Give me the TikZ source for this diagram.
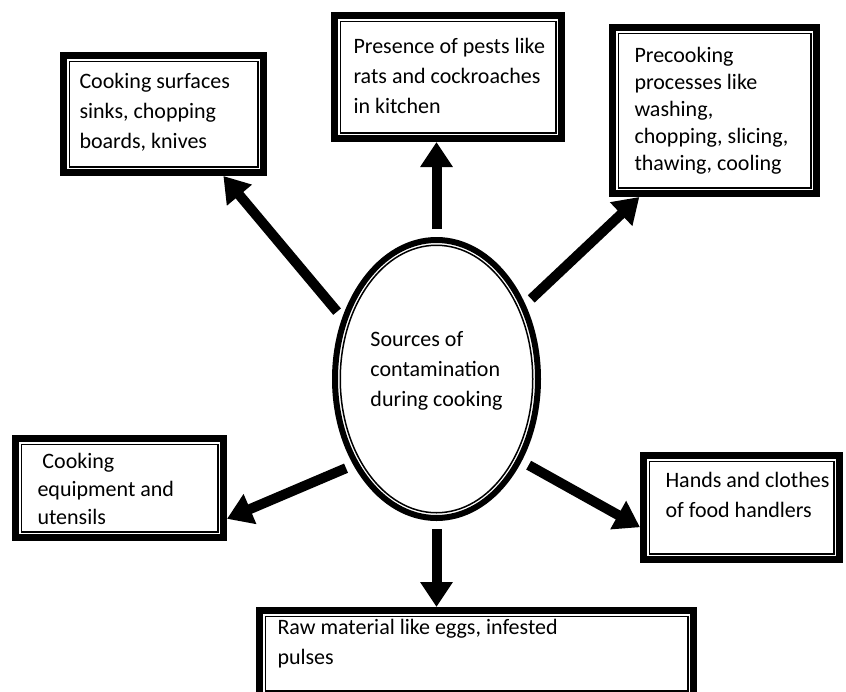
\documentclass[tikz,border=0pt]{standalone}
\usepackage{fontspec}
\setmainfont{Carlito}
\usetikzlibrary{arrows.meta,shapes.geometric}

\newcommand{\srcfont}{\fontsize{22}{30}\selectfont}
% text block of a framed box: width, height, indent, first line, text
\newcommand{\boxtext}[5]{\parbox[c][#2pt][t]{#1pt}{\leftskip=#3pt\rightskip=0pt plus 1fil\parfillskip=0pt plus 1fil\rule{0pt}{#4pt}#5}}

\tikzset{
  srcbox/.style={draw, line width=7pt, font=\srcfont,
    path picture={\draw [line width=1.5pt]
      ([shift={(5.75pt,-5.75pt)}]path picture bounding box.north west) rectangle
      ([shift={(-5.75pt,5.75pt)}]path picture bounding box.south east);}},
  srcell/.style={draw, ellipse, line width=6pt, font=\srcfont,
    minimum width=203pt, minimum height=278pt,
    path picture={\draw [line width=1.5pt] (path picture bounding box.center) ellipse (96.25pt and 133.75pt);}},
  bigarrow/.style={line width=10pt, -{Triangle[width=31pt,length=25pt]}, shorten <=8pt}
}

\begin{document}
\begin{tikzpicture}[x=1pt, y=-1pt]
    \tikzstyle{every node}+=[inner sep=0pt]
    \useasboundingbox (0,0) rectangle (846,691);
    % centre
    \node [srcell] (ell) at (436.5,379) {\raisebox{3pt}[0pt][0pt]{\begin{tabular}{@{}l@{}}Sources of\\ contamination\\ during cooking\end{tabular}}};
    % sources
    \node [srcbox] (surf) at (163.5,114) {\boxtext{200}{117}{16}{33}{Cooking surfaces\\ sinks, chopping\\ boards, knives}};
    \node [srcbox] (pests) at (448,77) {\boxtext{227}{123}{19}{38}{Presence of pests like\\ rats and cockroaches\\ in kitchen}};
    \node [srcbox] (pre) at (714.5,110.5) {\boxtext{204}{166}{22}{35}{\baselineskip=27pt Precooking\\ processes like\\ washing,\\ chopping, slicing,\\ thawing, cooling}};
    \node [srcbox] (equip) at (119.5,488) {\boxtext{208}{99}{22}{30}{\baselineskip=28pt \ Cooking\\ equipment and\\ utensils}};
    \node [srcbox] (hands) at (741.5,507.5) {\boxtext{196}{104}{22}{32}{Hands and clothes\\ of food handlers}};
    \node [srcbox] (raw) at (476.5,653.5) {\boxtext{434}{86}{18}{24}{Raw material like eggs, infested\\ pulses}};
    % arrows
    \draw [bigarrow] (ell.147) -- (surf.-46);
    \draw [bigarrow] (ell.north) -- (ell.north |- pests.south);
    \draw [bigarrow] (ell.40) -- (pre.229);
    \draw [bigarrow] (ell.226) -- (equip.-16);
    \draw [bigarrow] (ell.-44) -- (hands.191);
    \draw [bigarrow] (ell.south) -- (ell.south |- raw.north);
\end{tikzpicture}
\end{document}
